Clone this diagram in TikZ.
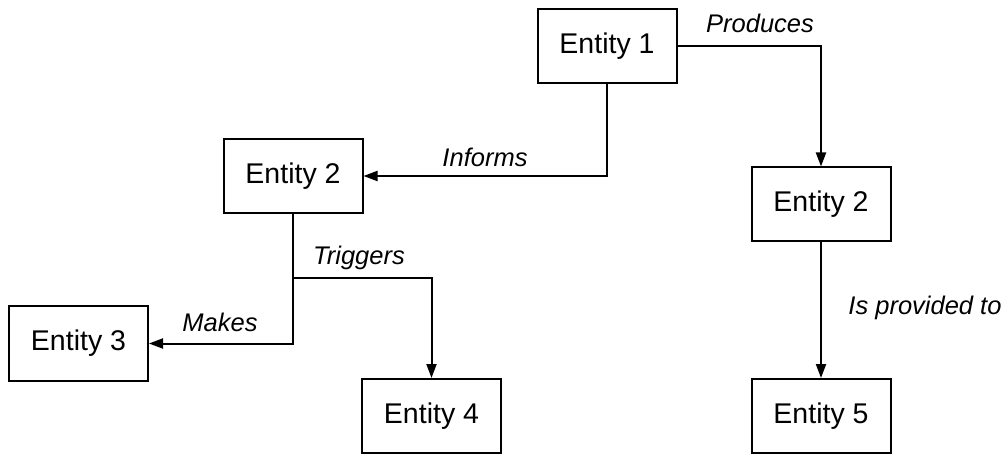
\documentclass[tikz,border=0pt]{standalone}
\usepackage{fontspec}
\setmainfont{Liberation Sans}
\usetikzlibrary{arrows.meta}
\begin{document}
\begin{tikzpicture}[x=1pt,y=-1pt,
  entity/.style={draw, line width=2pt, minimum width=139pt, minimum height=74pt,
    inner sep=0pt, font=\fontsize{28.5}{32}\selectfont},
  link/.style={line width=2pt, -{Triangle[length=14pt,width=10pt]}},
  lbl/.style={font=\fontsize{25.5}{29}\selectfont\itshape, inner sep=0pt}]
\useasboundingbox (0,0) rectangle (1004,454);

\node[entity] (e1)  at (607,46.5)  {Entity 1};
\node[entity] (e2l) at (293,176)   {Entity 2};
\node[entity] (e2r) at (821,204.5) {Entity 2};
\node[entity] (e3)  at (78.5,343.5){Entity 3};
\node[entity] (e4)  at (431.5,416) {Entity 4};
\node[entity] (e5)  at (821,416)   {Entity 5};

\coordinate (j) at (293,278);

\draw[link] (e1.east) -| (e2r.north);
\draw[link] (e1.south) |- (e2l.east);
\draw[link] (e2l.south) |- (e3.east);
\draw[link] (j) -| (e4.north);
\draw[link] (e2r.south) -- (e5.north);

\node[lbl] (lp) at (760,23)  {Produces};
\node[lbl] (li) at (485,157) {Informs};
\node[lbl] (lt) at (359,258) {Triggers};
\node[lbl] (lm) at (220,322) {Makes};
\node[lbl] (lg) at (925,308) {Is provided to};
\end{tikzpicture}
\end{document}
